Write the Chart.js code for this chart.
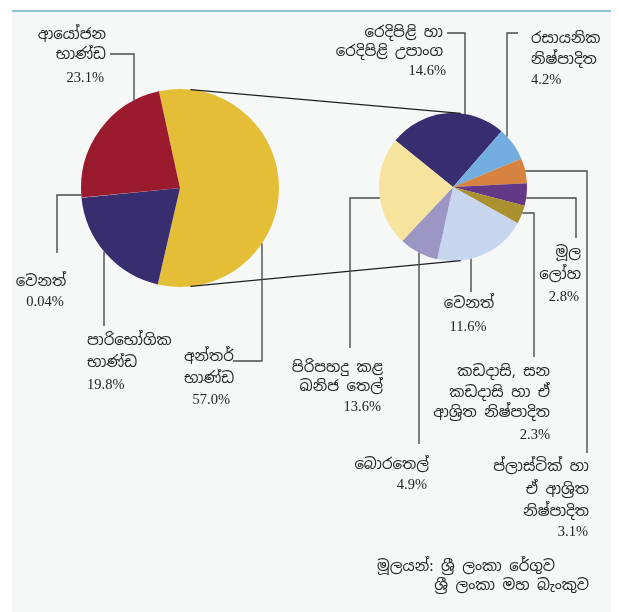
<!DOCTYPE html>
<html>
<head>
    <meta charset="utf-8">
    <title>ආනයන වියදම</title>
    <script src="https://cdn.jsdelivr.net/npm/chart.js"></script>
    <style>
        body {
            margin: 0;
            background: #fff;
        }
        .panel {
            position: absolute;
            left: 12px;
            top: 10px;
            width: 599px;
            height: 602px;
            background: #f6f8f8;
            border-top: 2px solid #8ec3d6;
        }
        canvas {
            position: absolute;
            left: 0;
            top: 0;
        }
    </style>
</head>
<body>
    <div class="panel"></div>
    <canvas id="mainChart" width="619" height="612"></canvas>
    <canvas id="subChart" width="619" height="612"></canvas>
    <script>
        // දත්ත - ප්‍රධාන වට ප්‍රස්තාරය
        const mainLabels = [['අන්තර්', 'භාණ්ඩ'], ['පාරිභෝගික', 'භාණ්ඩ'], ['වෙනත්'], ['ආයෝජන', 'භාණ්ඩ']];
        const mainValues = [57.0, 19.8, 0.04, 23.1];
        const mainColors = ['#e5be38', '#382d6f', '#f6f8f8', '#9a1b2e'];

        // අන්තර් භාණ්ඩ බෙදීම
        const subLabels = [
            ['රෙදිපිළි හා', 'රෙදිපිළි උපාංග'],
            ['රසායනික', 'නිෂ්පාදිත'],
            ['ප්ලාස්ටික් හා', 'ඒ ආශ්\u200dරිත', 'නිෂ්පාදිත'],
            ['මූල', 'ලෝහ'],
            ['කඩදාසි, සන', 'කඩදාසි හා ඒ', 'ආශ්\u200dරිත නිෂ්පාදිත'],
            ['වෙනත්'],
            ['බොරතෙල්'],
            ['පිරිපහදු කළ', 'ඛනිජ තෙල්']
        ];
        const subValues = [14.6, 4.2, 3.1, 2.8, 2.3, 11.6, 4.9, 13.6];
        const subColors = ['#382d6f', '#74ade0', '#d5833f', '#633887', '#ab9030', '#c7d5ee', '#9c96c5', '#f6e49e'];

        const sourceLines = ['මූලයන්: ශ්\u200dරී ලංකා රේගුව', 'ශ්\u200dරී ලංකා මහ බැංකුව'];

        // ලේබල් පිහිටීම් [x, y, align] - එක් එක් පේළියට
        const mainTextPos = [
            [[184, 357, 'left'], [184, 379, 'left'], [230, 400, 'right']],
            [[87, 341, 'left'], [87, 363, 'left'], [87, 385, 'left']],
            [[41, 282, 'center'], [45, 302, 'center']],
            [[106, 35, 'right'], [106, 55, 'right'], [104, 78, 'right']]
        ];
        const mainLeaders = [
            { pts: [[233, 361], [262, 361]], to: 'v' },
            { pts: [[104, 326]], to: 'v' },
            { pts: [[57, 253], [57, 195]], to: 'h' },
            { pts: [[110, 54], [134, 54]], to: 'v' }
        ];
        const subTextPos = [
            [[443, 33, 'right'], [443, 52, 'right'], [446, 71, 'right']],
            [[531, 39, 'left'], [531, 60, 'left'], [531, 80, 'left']],
            [[589, 467, 'right'], [589, 490, 'right'], [589, 512, 'right'], [588, 532, 'right']],
            [[581, 253, 'right'], [581, 275, 'right'], [579, 297, 'right']],
            [[550, 372, 'right'], [550, 393, 'right'], [550, 413, 'right'], [550, 435, 'right']],
            [[469, 304, 'center'], [468, 327, 'center']],
            [[429, 465, 'right'], [427, 485, 'right']],
            [[383, 368, 'right'], [383, 387, 'right'], [381, 407, 'right']]
        ];
        const subLeaders = [
            { pts: [[447, 33], [465, 33]], to: 'v' },
            { pts: [[518, 33], [507, 33]], to: 'v' },
            { pts: [[587, 453], [587, 171]], to: 'h' },
            { pts: [[576, 238], [576, 198]], to: 'h' },
            { pts: [[534, 357], [534, 213]], to: 'h' },
            { pts: [[471, 292]], to: 'v' },
            { pts: [[419, 444]], to: 'v' },
            { pts: [[350, 348], [350, 198]], to: 'h' }
        ];
        const sourcePos = [[377, 567, 'left'], [589, 586, 'right']];

        const textFont = '15px "Noto Sans Sinhala", "Noto Serif Sinhala", "Iskoola Pota", "Liberation Serif", serif';
        const numFont = '14.5px "Liberation Serif", "Times New Roman", serif';

        function pct(v) {
            return (v < 0.1 ? v.toFixed(2) : v.toFixed(1)) + '%';
        }

        function edgePoint(arc, p, dir) {
            const dx = p[0] - arc.x, dy = p[1] - arc.y, r = arc.outerRadius;
            if (dir === 'v') return [p[0], arc.y + Math.sign(dy) * Math.sqrt(Math.max(r * r - dx * dx, 0))];
            return [arc.x + Math.sign(dx) * Math.sqrt(Math.max(r * r - dy * dy, 0)), p[1]];
        }

        function drawLabels(ctx, arc, labels, values, textPos, leaders) {
            ctx.strokeStyle = '#4a4a4a';
            ctx.lineWidth = 1.4;
            leaders.forEach(function (ld) {
                const end = edgePoint(arc, ld.pts[ld.pts.length - 1], ld.to);
                ctx.beginPath();
                ctx.moveTo(ld.pts[0][0], ld.pts[0][1]);
                for (let i = 1; i < ld.pts.length; i++) ctx.lineTo(ld.pts[i][0], ld.pts[i][1]);
                ctx.lineTo(end[0], end[1]);
                ctx.stroke();
            });
            ctx.fillStyle = '#222';
            ctx.textBaseline = 'middle';
            labels.forEach(function (lines, i) {
                const all = lines.concat([pct(values[i])]);
                all.forEach(function (t, j) {
                    const p = textPos[i][j];
                    ctx.font = j === all.length - 1 ? numFont : textFont;
                    ctx.textAlign = p[2];
                    ctx.fillText(t, p[0], p[1]);
                });
            });
        }

        const mainChart = new Chart(document.getElementById('mainChart'), {
            type: 'pie',
            data: {
                labels: mainLabels.map(l => l.join(' ')),
                datasets: [{ data: mainValues, backgroundColor: mainColors, borderWidth: 0 }]
            },
            options: {
                responsive: false,
                animation: false,
                devicePixelRatio: 1,
                rotation: -12.3,
                layout: { padding: { left: 81, right: 340, top: 89, bottom: 325 } },
                plugins: { legend: { display: false }, tooltip: { enabled: false } }
            }
        });

        const overlay = {
            id: 'overlay',
            afterDraw(chart) {
                const ctx = chart.ctx;
                const big = mainChart.getDatasetMeta(0).data[0];
                const small = chart.getDatasetMeta(0).data[0];
                const a = 6 * Math.PI / 180;
                ctx.save();
                // පිපි සම්බන්ධක රේඛා
                ctx.strokeStyle = '#1e1e1e';
                ctx.lineWidth = 1.2;
                [-1, 1].forEach(function (s) {
                    ctx.beginPath();
                    ctx.moveTo(big.x + big.outerRadius * Math.sin(a), big.y + s * big.outerRadius * Math.cos(a));
                    ctx.lineTo(small.x + small.outerRadius * Math.sin(a), small.y + s * small.outerRadius * Math.cos(a));
                    ctx.stroke();
                });
                drawLabels(ctx, big, mainLabels, mainValues, mainTextPos, mainLeaders);
                drawLabels(ctx, small, subLabels, subValues, subTextPos, subLeaders);
                ctx.font = textFont;
                sourceLines.forEach(function (t, i) {
                    ctx.textAlign = sourcePos[i][2];
                    ctx.fillText(t, sourcePos[i][0], sourcePos[i][1]);
                });
                ctx.restore();
            }
        };

        new Chart(document.getElementById('subChart'), {
            type: 'pie',
            data: {
                labels: subLabels.map(l => l.join(' ')),
                datasets: [{ data: subValues, backgroundColor: subColors, borderWidth: 0 }]
            },
            options: {
                responsive: false,
                animation: false,
                devicePixelRatio: 1,
                rotation: -51,
                layout: { padding: { left: 379, right: 92, top: 113, bottom: 351 } },
                plugins: { legend: { display: false }, tooltip: { enabled: false } }
            },
            plugins: [overlay]
        });
    </script>
</body>
</html>
